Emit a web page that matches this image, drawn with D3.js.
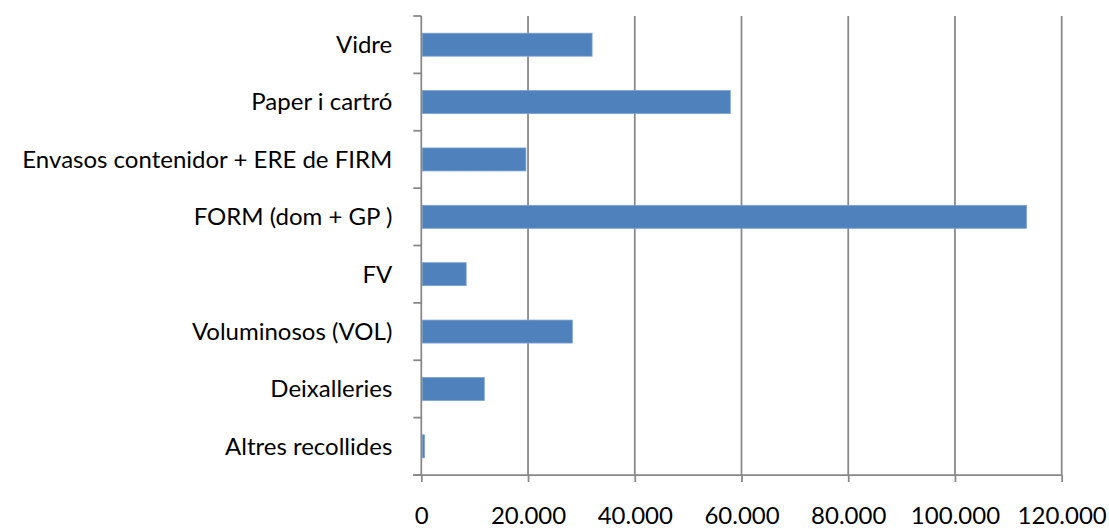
<!DOCTYPE html>
<html>
<head>
<meta charset="utf-8">
<script src="https://cdn.jsdelivr.net/npm/d3@7"></script>
<style>
  html, body { margin: 0; padding: 0; background: #ffffff; }
  svg { display: block; }
  text { font-family: Lato, "Open Sans", sans-serif; fill: #000; }
</style>
</head>
<body>
<svg id="chart" width="1109" height="529"></svg>
<script>
// Waste collected by fraction (tonnes)
const categories = [
  "Vidre",
  "Paper i cartró",
  "Envasos contenidor + ERE de FIRM",
  "FORM (dom + GP )",
  "FV",
  "Voluminosos (VOL)",
  "Deixalleries",
  "Altres recollides"
];
const values = [32000, 57900, 19600, 113400, 8400, 28300, 11800, 600];
const xTicks = [0, 20000, 40000, 60000, 80000, 100000, 120000];
const xTickLabels = ["0", "20.000", "40.000", "60.000", "80.000", "100.000", "120.000"];

const svg = d3.select("#chart");
const margin = { left: 421.3, top: 16, right: 1109 - 1061.7, bottom: 529 - 475 };
const W = 1109, H = 529;
const plotW = W - margin.left - margin.right;
const plotH = H - margin.top - margin.bottom;

const x = d3.scaleLinear().domain([0, 120000]).range([0, plotW]);
const y = d3.scaleBand().domain(categories).range([0, plotH])
  .paddingInner(0.6).paddingOuter(0.3);

const g = svg.append("g").attr("transform", `translate(${margin.left},${margin.top})`);

const gridColor = "#878787";
const fontSize = 24;

// vertical gridlines
g.append("g").selectAll("line")
  .data(xTicks.slice(1))
  .join("line")
  .attr("x1", d => x(d)).attr("x2", d => x(d))
  .attr("y1", 0).attr("y2", plotH)
  .attr("stroke", gridColor).attr("stroke-width", 1.75);

// bars
g.append("g").selectAll("rect")
  .data(categories)
  .join("rect")
  .attr("x", x(0) + 1)
  .attr("y", d => y(d))
  .attr("width", (d, i) => Math.max(0, x(values[i]) - x(0) - 1))
  .attr("height", y.bandwidth())
  .attr("fill", "#4f81bd")
  .attr("stroke", "#7aa0cf")
  .attr("stroke-width", 0.8);

// x axis
const xAxis = d3.axisBottom(x)
  .tickValues(xTicks)
  .tickFormat((d, i) => xTickLabels[i])
  .tickSize(7)
  .tickPadding(25);
const gx = g.append("g").attr("transform", `translate(0,${plotH})`).call(xAxis);
gx.select(".domain").remove();
gx.append("line").attr("x1", -8).attr("x2", plotW).attr("y1", 0).attr("y2", 0)
  .attr("stroke", gridColor).attr("stroke-width", 1.75);
gx.selectAll(".tick line").attr("stroke", gridColor).attr("stroke-width", 1.75);
gx.selectAll(".tick text").attr("font-size", fontSize).attr("fill", "#000");

// y axis: category boundaries ticks
const boundaries = d3.range(categories.length + 1).map(i => i * y.step());
const gy = g.append("g");
gy.append("line").attr("x1", 0).attr("x2", 0).attr("y1", 0).attr("y2", plotH)
  .attr("stroke", gridColor).attr("stroke-width", 1.75);
gy.selectAll("line.tk").data(boundaries).join("line").attr("class", "tk")
  .attr("x1", -8).attr("x2", 0).attr("y1", d => d).attr("y2", d => d)
  .attr("stroke", gridColor).attr("stroke-width", 1.75);

// category labels
g.append("g").selectAll("text")
  .data(categories)
  .join("text")
  .attr("x", -29)
  .attr("y", d => y(d) + y.bandwidth() / 2)
  .attr("dy", "0.35em")
  .attr("text-anchor", "end")
  .attr("font-size", fontSize)
  .text(d => d);
</script>
</body>
</html>
